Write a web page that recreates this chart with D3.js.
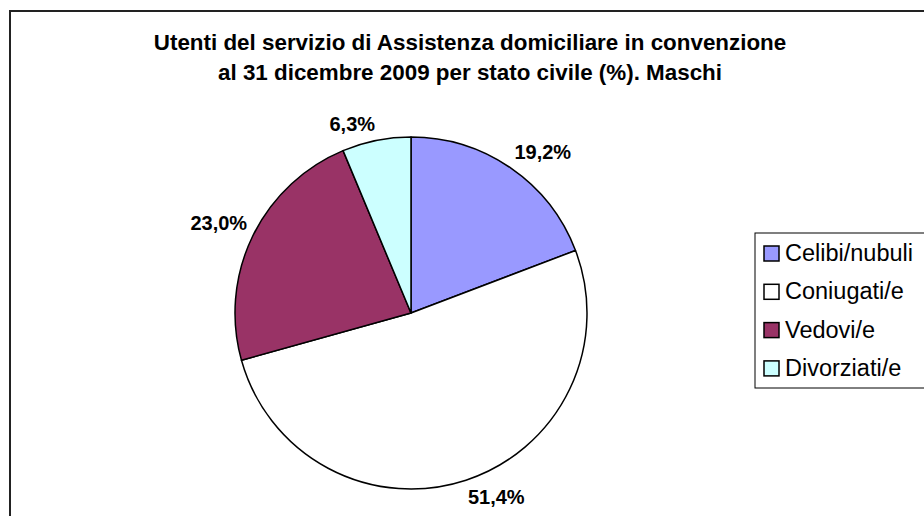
<!DOCTYPE html>
<html>
<head>
<meta charset="utf-8">
<script src="https://cdn.jsdelivr.net/npm/d3@7"></script>
<style>
  html, body { margin: 0; padding: 0; background: #fff; }
  svg { display: block; font-family: "Liberation Sans", Arial, sans-serif; }
</style>
</head>
<body>
<svg id="chart" width="924" height="516"></svg>
<script>
// dati
const categories = ['Celibi/nubuli', 'Coniugati/e', 'Vedovi/e', 'Divorziati/e'];
const values = [19.2, 51.4, 23.0, 6.3];
const sliceColors = ['#9999FF', '#FFFFFF', '#993366', '#CCFFFF'];
const titleLines = [
  'Utenti del servizio di Assistenza domiciliare in convenzione',
  'al 31 dicembre 2009 per stato civile (%). Maschi'
];

const width = 924;
const height = 516;
const cx = 411, cy = 313, radius = 176;

const svg = d3.select('#chart');

// cornice esterna (tagliata a destra e in basso come nell'originale)
svg.append('rect')
  .attr('x', 10).attr('y', 11)
  .attr('width', width + 20).attr('height', height + 20)
  .attr('fill', '#fff')
  .attr('stroke', '#222')
  .attr('stroke-width', 2);

// titolo
svg.append('g')
  .selectAll('text')
  .data(titleLines)
  .enter()
  .append('text')
  .attr('x', 470)
  .attr('y', (d, i) => 50 + i * 30)
  .attr('text-anchor', 'middle')
  .attr('font-size', 22.4)
  .attr('font-weight', 'bold')
  .attr('fill', '#000')
  .text(d => d);

const color = d3.scaleOrdinal().domain(categories).range(sliceColors);
const itFormat = d3.formatLocale({ decimal: ',', thousands: '.', grouping: [3], currency: ['', '€'] }).format('.1f');

const data = categories.map((c, i) => ({ name: c, value: values[i] }));
const pie = d3.pie().sort(null).value(d => d.value);
const arcs = pie(data);
const arc = d3.arc().innerRadius(0).outerRadius(radius);

const g = svg.append('g').attr('transform', `translate(${cx},${cy})`);

g.selectAll('path')
  .data(arcs)
  .enter()
  .append('path')
  .attr('d', arc)
  .attr('fill', d => color(d.data.name))
  .attr('stroke', '#000')
  .attr('stroke-width', 1.5)
  .attr('stroke-linejoin', 'round');

// etichette fuori dal bordo: l'angolo del riquadro più vicino al centro tocca r + pad
const pad = 6;
const labels = g.selectAll('text.lab')
  .data(arcs)
  .enter()
  .append('text')
  .attr('class', 'lab')
  .attr('font-size', 20)
  .attr('font-weight', 'bold')
  .attr('text-anchor', 'middle')
  .attr('dominant-baseline', 'central')
  .text(d => itFormat(d.data.value) + '%');

labels.each(function (d) {
  const a = (d.startAngle + d.endAngle) / 2;
  const bb = this.getBBox();
  const s = Math.sin(a), c = Math.cos(a);
  const x = (radius + pad) * s + Math.sign(s) * bb.width / 2;
  let y = -(radius + pad) * c - Math.sign(c) * bb.height / 2;
  y = Math.min(y, height - 10 - cy);
  d3.select(this).attr('x', x).attr('y', y);
});

// legenda
const legX = 755, legY = 233, rowH = 38.3;
const leg = svg.append('g');
leg.append('rect')
  .attr('x', legX).attr('y', legY)
  .attr('width', 200).attr('height', 155)
  .attr('fill', '#fff')
  .attr('stroke', '#000')
  .attr('stroke-width', 1);

const items = leg.selectAll('g.item')
  .data(categories)
  .enter()
  .append('g')
  .attr('class', 'item')
  .attr('transform', (d, i) => `translate(${legX + 9},${legY + 20 + i * rowH})`);

items.append('rect')
  .attr('x', 0).attr('y', -7)
  .attr('width', 15).attr('height', 15)
  .attr('fill', d => color(d))
  .attr('stroke', '#000')
  .attr('stroke-width', 1.5);

items.append('text')
  .attr('x', 21)
  .attr('y', 0)
  .attr('dominant-baseline', 'central')
  .attr('font-size', 23.5)
  .attr('fill', '#000')
  .text(d => d);
</script>
</body>
</html>
